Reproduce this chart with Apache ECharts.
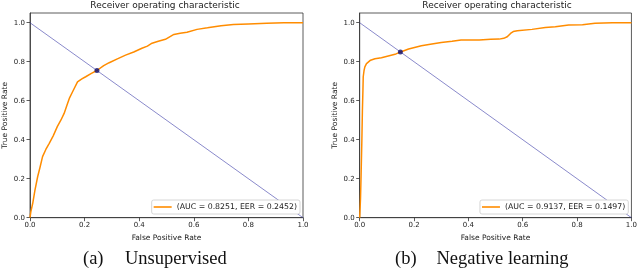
<!DOCTYPE html>
<html><head><meta charset="utf-8">
<script src="https://cdn.jsdelivr.net/npm/echarts@6/dist/echarts.min.js"></script>
<style>html,body{margin:0;padding:0;background:#fff}#c{width:640px;height:270px}</style>
</head><body><div id="c"></div>
<script>
const ticks = [0, 0.2, 0.4, 0.6, 0.8, 1.0];
const chartTitle = 'Receiver operating characteristic';
const xName = 'False Positive Rate';
const yName = 'True Positive Rate';
const labelA = '(AUC = 0.8251, EER = 0.2452)';
const labelB = '(AUC = 0.9137, EER = 0.1497)';
const captionA = ['(a)', 'Unsupervised'];
const captionB = ['(b)', 'Negative learning'];

const fprA = [0, 0.003, 0.01, 0.018, 0.028, 0.037, 0.046, 0.058, 0.07, 0.085, 0.1, 0.113, 0.125, 0.135, 0.144, 0.156, 0.174, 0.19, 0.204, 0.225, 0.245, 0.27, 0.29, 0.32, 0.35, 0.38, 0.41, 0.43, 0.447, 0.47, 0.496, 0.527, 0.55, 0.575, 0.612, 0.65, 0.7, 0.745, 0.8, 0.867, 0.93, 1.0];
const tprA = [0, 0.03, 0.074, 0.14, 0.21, 0.26, 0.313, 0.35, 0.38, 0.42, 0.467, 0.5, 0.535, 0.575, 0.612, 0.646, 0.697, 0.712, 0.723, 0.74, 0.755, 0.78, 0.795, 0.815, 0.834, 0.85, 0.869, 0.88, 0.895, 0.905, 0.915, 0.94, 0.946, 0.951, 0.966, 0.974, 0.985, 0.991, 0.994, 0.998, 1.0, 1.0];
const fprB = [0, 0.001, 0.003, 0.005, 0.008, 0.01, 0.012, 0.013, 0.016, 0.019, 0.025, 0.031, 0.04, 0.056, 0.08, 0.105, 0.13, 0.148, 0.18, 0.227, 0.26, 0.3, 0.34, 0.373, 0.44, 0.482, 0.513, 0.53, 0.543, 0.555, 0.565, 0.58, 0.634, 0.683, 0.72, 0.769, 0.82, 0.866, 0.93, 1.0];
const tprB = [0, 0.005, 0.1, 0.21, 0.4, 0.552, 0.66, 0.723, 0.755, 0.774, 0.79, 0.8, 0.808, 0.815, 0.82, 0.829, 0.838, 0.849, 0.865, 0.882, 0.89, 0.899, 0.905, 0.911, 0.911, 0.915, 0.916, 0.92, 0.928, 0.945, 0.955, 0.959, 0.966, 0.976, 0.98, 0.988, 0.99, 0.998, 1.0, 1.0];
const eerA = [0.2452, 0.7548];
const eerB = [0.1497, 0.8503];
const diagX = [0, 1];
const diagY = [1, 0];

const zip = (a, b) => a.map((v, i) => [v, b[i]]);
const sans = 'DejaVu Sans';
const serif = 'Liberation Serif';
const axisCol = '#333';
const orange = '#ff8c00';

function xAx(gi) {
  return {
    type: 'value', gridIndex: gi, min: 0, max: 1, interval: 0.2,
    name: xName, nameLocation: 'middle', nameGap: 13,
    nameTextStyle: {fontFamily: sans, fontSize: 7.5, color: '#222'},
    axisLine: {show: true, lineStyle: {color: axisCol, width: 0.8}},
    axisTick: {show: true, length: 3.5, lineStyle: {color: axisCol, width: 0.8}},
    axisLabel: {fontFamily: sans, fontSize: 7, color: '#222', margin: 4, formatter: v => v.toFixed(1)},
    splitLine: {show: false}
  };
}
function yAx(gi) {
  return {
    type: 'value', gridIndex: gi, min: 0, max: 1.05,
    name: yName, nameLocation: 'middle', nameGap: 21,
    nameTextStyle: {fontFamily: sans, fontSize: 7.5, color: '#222'},
    axisLine: {show: true, lineStyle: {color: axisCol, width: 0.8}},
    axisTick: {show: true, length: 3.5, customValues: ticks, lineStyle: {color: axisCol, width: 0.8}},
    axisLabel: {fontFamily: sans, fontSize: 7, color: '#222', margin: 5, customValues: ticks, formatter: v => v.toFixed(1)},
    splitLine: {show: false}
  };
}
function legend(name, right) {
  return {
    data: [name], right: right, bottom: 56, orient: 'vertical',
    icon: 'rect', itemWidth: 18, itemHeight: 1.6, itemGap: 0,
    padding: [2, 3, 2, 2],
    borderColor: '#ccc', borderWidth: 0.8, borderRadius: 2, backgroundColor: '#fff',
    textStyle: {fontFamily: sans, fontSize: 7.8, color: '#222', lineHeight: 10}
  };
}
function series(gi, name, fpr, tpr, eer) {
  return [
    {type: 'line', xAxisIndex: gi, yAxisIndex: gi, data: zip(diagX, diagY), symbol: 'none',
     lineStyle: {color: '#3a3aa8', width: 0.6}, silent: true, z: 2, animation: false},
    {type: 'line', name: name, xAxisIndex: gi, yAxisIndex: gi, data: zip(fpr, tpr), symbol: 'none',
     color: orange, itemStyle: {color: orange}, lineStyle: {color: orange, width: 1.5}, z: 3, animation: false},
    {type: 'scatter', xAxisIndex: gi, yAxisIndex: gi, data: [eer], symbolSize: 5,
     itemStyle: {color: '#0b0b6e'}, z: 4, animation: false}
  ];
}
const titleStyle = {fontFamily: sans, fontSize: 9, fontWeight: 'normal', color: '#222'};
const capStyle = {fontFamily: serif, fontSize: 18.5, fontWeight: 'normal', color: '#111'};

const chart = echarts.init(document.getElementById('c'), null, {renderer: 'canvas'});
chart.setOption({
  animation: false,
  backgroundColor: '#fff',
  title: [
    {text: chartTitle, left: 165, top: 1, padding: 0, textAlign: 'center', textStyle: titleStyle},
    {text: chartTitle, left: 497, top: 1, padding: 0, textAlign: 'center', textStyle: titleStyle},
    {text: captionA[0], left: 83, top: 250, padding: 0, textStyle: capStyle},
    {text: captionA[1], left: 125, top: 250, padding: 0, textStyle: capStyle},
    {text: captionB[0], left: 395, top: 250, padding: 0, textStyle: capStyle},
    {text: captionB[1], left: 436.5, top: 250, padding: 0, textStyle: capStyle}
  ],
  grid: [
    {left: 29, right: 337, top: 13, bottom: 52.3, show: true, borderColor: axisCol, borderWidth: 0.8, backgroundColor: 'transparent'},
    {left: 359.7, right: 6.7, top: 13, bottom: 52.3, show: true, borderColor: axisCol, borderWidth: 0.8, backgroundColor: 'transparent'}
  ],
  xAxis: [xAx(0), xAx(1)],
  yAxis: [yAx(0), yAx(1)],
  legend: [legend(labelA, 340), legend(labelB, 11.7)],
  series: [...series(0, labelA, fprA, tprA, eerA), ...series(1, labelB, fprB, tprB, eerB)]
});
</script>
</body></html>
